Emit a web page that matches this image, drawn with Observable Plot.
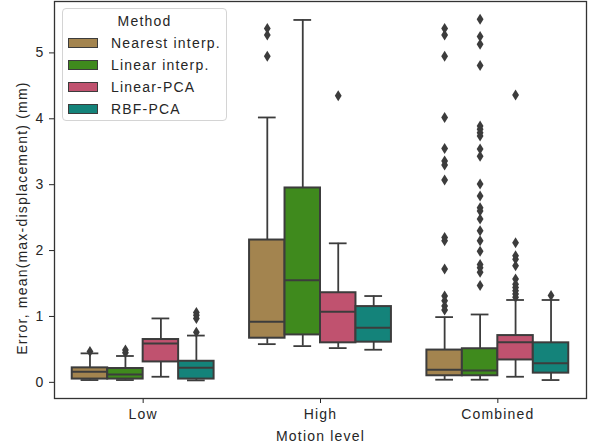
<!DOCTYPE html>
<html>
<head>
<meta charset="utf-8">
<script src="https://cdn.jsdelivr.net/npm/d3@7"></script>
<script src="https://cdn.jsdelivr.net/npm/@observablehq/plot@0.6"></script>
<style>
  html, body { margin: 0; padding: 0; background: #fff; }
  #wrap { position: relative; width: 595px; height: 445px; font-family: "Liberation Sans", Arial, sans-serif; }
  #legend { position: absolute; left: 62px; top: 8px; width: 163px; height: 111px;
    border: 1px solid #d4d4d4; border-radius: 4px; background: rgba(255,255,255,0.85);
    font-size: 14px; letter-spacing: 1.2px; color: #262626; }
  #legend .title { position: absolute; left: 0; width: 100%; top: 4px; text-align: center; line-height: 16px; }
  #legend .row { position: absolute; left: 5px; height: 16px; display: flex; align-items: center; }
  #legend .sw { width: 28px; height: 8px; border: 1.3px solid #3c3c3c; margin-right: 13px; }
</style>
</head>
<body>
<div id="wrap"></div>
<script>
const categories = ["Low", "High", "Combined"];
const methods = ["Nearest interp.", "Linear interp.", "Linear-PCA", "RBF-PCA"];
const colors = ["#a3844f", "#3f8a1d", "#c0526f", "#14837a"];
const yLabel = "Error, mean(max-displacement) (mm)";
const xLabel = "Motion level";
const legendTitle = "Method";

// box statistics: [category][method]
const whiskerLow  = [[0.035, 0.035, 0.085, 0.03], [0.58, 0.55, 0.52, 0.495], [0.04, 0.04, 0.085, 0.035]];
const q1          = [[0.05, 0.05, 0.31, 0.05],    [0.67, 0.72, 0.60, 0.61],  [0.10, 0.10, 0.34, 0.14]];
const median      = [[0.16, 0.12, 0.59, 0.22],    [0.92, 1.55, 1.07, 0.83],  [0.19, 0.18, 0.61, 0.29]];
const q3          = [[0.22, 0.21, 0.65, 0.32],    [2.16, 2.95, 1.36, 1.15],  [0.49, 0.51, 0.71, 0.60]];
const whiskerHigh = [[0.44, 0.40, 0.97, 0.71],    [4.02, 5.50, 2.11, 1.31],  [0.99, 1.03, 1.25, 1.25]];
const outliers = [
  [[0.47], [0.45, 0.49], [], [0.76, 0.97, 1.02, 1.06]],
  [[4.95, 5.27, 5.37], [], [4.35], []],
  [[5.37, 5.27, 4.95, 4.02, 3.55, 3.36, 3.30, 3.07, 2.20, 2.15, 1.72, 1.31, 1.24, 1.16, 1.10],
   [5.51, 5.25, 5.13, 4.81, 3.89, 3.84, 3.79, 3.74, 3.54, 3.43, 3.01, 2.83, 2.65, 2.60, 2.48, 2.30, 2.15, 1.99, 1.79, 1.74, 1.67, 1.47],
   [4.36, 2.12, 1.92, 1.87, 1.77, 1.57, 1.49, 1.44, 1.39, 1.34, 1.29],
   [1.32]]
];

const boxW = 0.2;   // width of each box in category units (0.8 / 4 methods)
const boxes = [];
const fliers = [];
categories.forEach((cat, gi) => {
  methods.forEach((m, mi) => {
    const c = gi + (mi - (methods.length - 1) / 2) * boxW;
    boxes.push({
      category: cat, method: m, c,
      x1: c - boxW / 2, x2: c + boxW / 2,
      cap1: c - boxW / 4, cap2: c + boxW / 4,
      lo: whiskerLow[gi][mi], q1: q1[gi][mi], med: median[gi][mi], q3: q3[gi][mi], hi: whiskerHigh[gi][mi]
    });
    outliers[gi][mi].forEach(v => fliers.push({category: cat, method: m, c, v}));
  });
});

const thinDiamond = {
  draw(context, size) {
    const h = Math.sqrt(size / Math.PI);
    const w = h * 0.62;
    context.moveTo(0, -h);
    context.lineTo(w, 0);
    context.lineTo(0, h);
    context.lineTo(-w, 0);
    context.closePath();
  }
};

const edge = "#3c3c3c";

const chart = Plot.plot({
  width: 595,
  height: 445,
  marginLeft: 54,
  marginRight: 9,
  marginTop: 1,
  marginBottom: 47,
  style: {fontFamily: "'Liberation Sans', Arial, sans-serif", fontSize: "14px", color: "#262626", letterSpacing: "1.2px", background: "white"},
  x: {domain: [-0.5, categories.length - 0.5], ticks: 3, tickSize: 5, tickPadding: 6,
      tickFormat: d => Number.isInteger(d) ? categories[d] : "", label: null},
  y: {domain: [-0.245, 5.78], ticks: 6, tickSize: 5, tickPadding: 5, label: null},
  color: {domain: methods, range: colors},
  marks: [
    Plot.ruleX(boxes, {x: "c", y1: "lo", y2: "q1", stroke: edge, strokeWidth: 1.8}),
    Plot.ruleX(boxes, {x: "c", y1: "q3", y2: "hi", stroke: edge, strokeWidth: 1.8}),
    Plot.ruleY(boxes, {y: "lo", x1: "cap1", x2: "cap2", stroke: edge, strokeWidth: 1.8}),
    Plot.ruleY(boxes, {y: "hi", x1: "cap1", x2: "cap2", stroke: edge, strokeWidth: 1.8}),
    Plot.rect(boxes, {x1: "x1", x2: "x2", y1: "q1", y2: "q3", fill: "method", stroke: edge, strokeWidth: 2}),
    Plot.ruleY(boxes, {y: "med", x1: "x1", x2: "x2", stroke: edge, strokeWidth: 2}),
    Plot.dot(fliers, {x: "c", y: "v", symbol: thinDiamond, r: 5.5, fill: edge, stroke: "none"}),
    Plot.frame({stroke: "#333", strokeWidth: 1.3}),
    Plot.text([yLabel], {frameAnchor: "left", rotate: -90, textAnchor: "middle", dx: -32, dy: 18, fill: "#262626"}),
    Plot.text([xLabel], {frameAnchor: "bottom", textAnchor: "middle", dy: 42, fill: "#262626"})
  ]
});

const wrap = document.getElementById("wrap");
wrap.appendChild(chart);

const legend = d3.select(wrap).append("div").attr("id", "legend");
legend.append("div").attr("class", "title").text(legendTitle);
methods.forEach((m, i) => {
  const row = legend.append("div").attr("class", "row").style("top", (26 + i * 22) + "px");
  row.append("div").attr("class", "sw").style("background", colors[i]);
  row.append("span").text(m);
});
</script>
</body>
</html>
